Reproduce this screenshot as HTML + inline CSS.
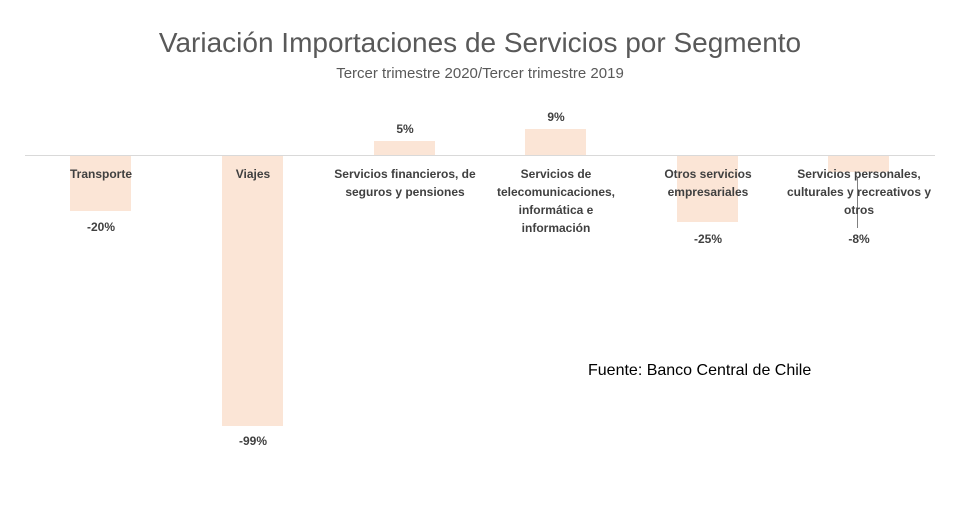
<!DOCTYPE html>
<html><head><meta charset="utf-8"><style>
body{margin:0;width:960px;height:512px;background:#fff;overflow:hidden;font-family:"Liberation Sans",sans-serif;position:relative}
.a{position:absolute}
.bar{position:absolute;background:#fbe5d6;width:61px}
.l{position:absolute;font-size:12px;font-weight:bold;color:#404040;text-align:center;line-height:18px}
</style></head><body>
<div class="a" style="left:0;width:960px;top:27px;text-align:center;font-size:28px;color:#595959">Variación Importaciones de Servicios por Segmento</div>
<div class="a" style="left:0;width:960px;top:65px;text-align:center;font-size:15px;color:#595959">Tercer trimestre 2020/Tercer trimestre 2019</div>
<div class="bar" style="left:70px;top:156px;height:55px"></div>
<div class="bar" style="left:222px;top:156px;height:270px"></div>
<div class="bar" style="left:374px;top:141px;height:14px"></div>
<div class="bar" style="left:525px;top:129px;height:26px"></div>
<div class="bar" style="left:677px;top:156px;height:66px"></div>
<div class="bar" style="left:828px;top:156px;height:16px"></div>
<div class="a" style="left:25px;top:155px;width:910px;height:1px;background:#d9d9d9"></div>
<div class="a" style="left:857px;top:178px;width:1px;height:50px;background:#808080"></div>
<div class="l" style="left:40px;width:122px;top:165px">Transporte</div>
<div class="l" style="left:192px;width:122px;top:165px">Viajes</div>
<div class="l" style="left:320px;width:170px;top:165px">Servicios financieros, de<br>seguros y pensiones</div>
<div class="l" style="left:480px;width:152px;top:165px">Servicios de<br>telecomunicaciones,<br>informática e<br>información</div>
<div class="l" style="left:627px;width:162px;top:165px">Otros servicios<br>empresariales</div>
<div class="l" style="left:778px;width:162px;top:165px">Servicios personales,<br>culturales y recreativos y<br>otros</div>
<div class="l" style="left:40px;width:122px;top:218px">-20%</div>
<div class="l" style="left:192px;width:122px;top:432px">-99%</div>
<div class="l" style="left:344px;width:122px;top:120px">5%</div>
<div class="l" style="left:495px;width:122px;top:108px">9%</div>
<div class="l" style="left:647px;width:122px;top:230px">-25%</div>
<div class="l" style="left:798px;width:122px;top:230px">-8%</div>
<div class="a" style="left:588px;top:362px;font-size:16px;color:#000">Fuente: Banco Central de Chile</div>
</body></html>
